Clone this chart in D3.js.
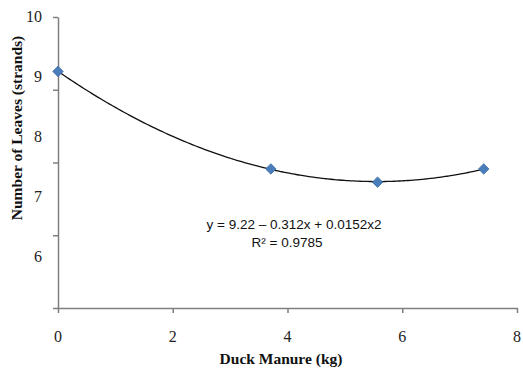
<!DOCTYPE html>
<html>
<head>
<meta charset="utf-8">
<script src="https://cdn.jsdelivr.net/npm/d3@7"></script>
<style>
  html, body { margin: 0; padding: 0; background: #fff; }
  svg { display: block; }
  .tick-label { font-family: "Liberation Serif", "Times New Roman", serif; font-size: 16px; fill: #222; }
  .axis-title { font-family: "Liberation Serif", "Times New Roman", serif; font-size: 15.5px; font-weight: bold; fill: #111; }
  .eq { font-family: "Liberation Sans Narrow", "Liberation Sans", Arial, sans-serif; font-size: 13.5px; fill: #111; }
</style>
</head>
<body>
<div id="chart"></div>
<script>
(function () {
  'use strict';

  // duck manure dose (kg) and mean number of leaves
  const doses = [0, 3.71, 5.57, 7.42];
  const leaves = [9.08, 7.46, 7.24, 7.46];

  const xTicks = [0, 2, 4, 6, 8];
  const yTickLabels = [6, 7, 8, 9, 10];
  const yTickMarks = [0, 1, 2, 3, 4];

  const eqText = 'y = 9.22 \u2013 0.312x + 0.0152x2';
  const r2Text = 'R\u00b2 = 0.9785';

  const width = 523, height = 374;
  const left = 58, right = 517, top = 17, bottom = 308;

  const svg = d3.select('#chart').append('svg')
    .attr('width', width)
    .attr('height', height);

  const x = d3.scaleLinear().domain([0, 8]).range([left, right]);
  // value scale (where the labels and points sit)
  const y = d3.scaleLinear().domain([5.15, 10]).range([bottom, 16]);
  // tick mark positions on the y axis line
  const yMarks = d3.scaleLinear().domain([0, 4]).range([bottom, top]);

  const axisColor = '#7f7f7f';

  // y axis line + tick marks
  const gy = svg.append('g').attr('transform', `translate(${left},0)`)
    .call(d3.axisLeft(yMarks).tickValues(yTickMarks).tickSize(5).tickSizeOuter(0).tickFormat(''));
  gy.select('.domain').attr('stroke', axisColor).attr('stroke-width', 1.5);
  gy.selectAll('.tick line').attr('stroke', axisColor).attr('stroke-width', 1.5);

  // x axis line + tick marks
  const gx = svg.append('g').attr('transform', `translate(0,${bottom})`)
    .call(d3.axisBottom(x).tickValues(xTicks).tickSize(5).tickSizeOuter(0).tickFormat(''));
  gx.select('.domain').attr('stroke', axisColor).attr('stroke-width', 1.5);
  gx.selectAll('.tick line').attr('stroke', axisColor).attr('stroke-width', 1.5);

  // tick labels
  svg.append('g').selectAll('text')
    .data(xTicks)
    .join('text')
    .attr('class', 'tick-label')
    .attr('x', d => x(d))
    .attr('y', 342)
    .attr('text-anchor', 'middle')
    .text(d => d);

  svg.append('g').selectAll('text')
    .data(yTickLabels)
    .join('text')
    .attr('class', 'tick-label')
    .attr('x', 42)
    .attr('y', d => y(d))
    .attr('dy', '0.35em')
    .attr('text-anchor', 'end')
    .text(d => d);

  // axis titles
  svg.append('text')
    .attr('class', 'axis-title')
    .attr('x', 281)
    .attr('y', 364)
    .attr('text-anchor', 'middle')
    .text('Duck Manure (kg)');

  svg.append('text')
    .attr('class', 'axis-title')
    .attr('transform', 'translate(22,128) rotate(-90)')
    .attr('text-anchor', 'middle')
    .text('Number of Leaves (strands)');

  // quadratic least-squares trendline through the points
  const pts = doses.map((d, i) => [d, leaves[i]]);
  function quadFit(p) {
    let s0 = 0, s1 = 0, s2 = 0, s3 = 0, s4 = 0, t0 = 0, t1 = 0, t2 = 0;
    p.forEach(([a, b]) => {
      s0 += 1; s1 += a; s2 += a * a; s3 += a * a * a; s4 += a * a * a * a;
      t0 += b; t1 += a * b; t2 += a * a * b;
    });
    const M = [[s0, s1, s2, t0], [s1, s2, s3, t1], [s2, s3, s4, t2]];
    for (let i = 0; i < 3; i++) {
      for (let k = i + 1; k < 3; k++) {
        const f = M[k][i] / M[i][i];
        for (let j = i; j < 4; j++) M[k][j] -= f * M[i][j];
      }
    }
    const c = [0, 0, 0];
    for (let i = 2; i >= 0; i--) {
      let s = M[i][3];
      for (let j = i + 1; j < 3; j++) s -= M[i][j] * c[j];
      c[i] = s / M[i][i];
    }
    return c;
  }
  const coef = quadFit(pts);
  const fx = d3.range(0, 7.42 + 1e-9, 0.05);
  const trend = fx.map(v => [v, coef[0] + coef[1] * v + coef[2] * v * v]);

  svg.append('path')
    .datum(trend)
    .attr('fill', 'none')
    .attr('stroke', '#111')
    .attr('stroke-width', 1.3)
    .attr('d', d3.line().x(d => x(d[0])).y(d => y(d[1])).curve(d3.curveMonotoneX));

  // markers
  svg.append('g').selectAll('path')
    .data(pts)
    .join('path')
    .attr('transform', d => `translate(${x(d[0])},${y(d[1])})`)
    .attr('d', d3.symbol(d3.symbolDiamond2, 70)())
    .attr('fill', '#4a7ebb')
    .attr('stroke', '#3b6aa3')
    .attr('stroke-width', 0.8);

  // trendline equation
  svg.append('text')
    .attr('class', 'eq')
    .attr('x', 294)
    .attr('y', 229)
    .attr('text-anchor', 'middle')
    .text(eqText);

  svg.append('text')
    .attr('class', 'eq')
    .attr('x', 287)
    .attr('y', 247)
    .attr('text-anchor', 'middle')
    .text(r2Text);
})();
</script>
</body>
</html>
